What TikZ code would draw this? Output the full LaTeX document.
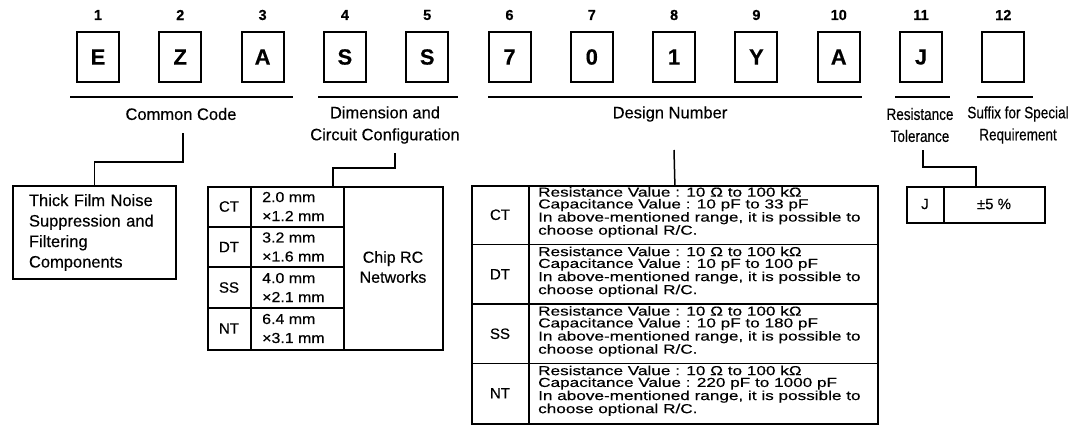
\documentclass[tikz,border=0pt]{standalone}
\usepackage{fontspec}
\setmainfont[FakeBold=0.35]{Liberation Sans}[BoldFont={Liberation Sans Bold}]
\newfontfamily\widef[FakeStretch=1.32,FakeBold=0.35]{Liberation Sans}
\newfontfamily\medf[FakeStretch=1.1,FakeBold=0.35]{Liberation Sans}
\newfontfamily\narf[FakeStretch=0.82,FakeBold=0.35]{Liberation Sans}
\usetikzlibrary{calc}
\begin{document}
\begin{tikzpicture}[x=1pt,y=-1pt,
  digit/.style={font=\fontsize{14.5}{14.5}\selectfont\bfseries, inner sep=0},
  cell/.style={draw, line width=2pt, minimum width=42pt, minimum height=50pt, inner sep=0, font=\fontsize{22}{22}\selectfont\bfseries},
  lbl/.style={font=\fontsize{16.5}{22}\selectfont, inner sep=0, align=center},
  nlbl/.style={font=\narf\fontsize{16.5}{22}\selectfont, inner sep=0, align=center},
  ln/.style={line width=1.5pt},
  frame/.style={draw, line width=1.8pt, inner sep=0, anchor=north west},
  codetxt/.style={font=\fontsize{15}{15}\selectfont, inner sep=0},
  sztxt/.style={font=\medf\fontsize{14.5}{19}\selectfont, inner sep=0, align=left, anchor=west},
  tabtxt/.style={font=\widef\fontsize{13}{11.8}\selectfont, align=left, anchor=north west, inner sep=0}
]
\useasboundingbox (0,0) rectangle (1073,434);

% top digits and boxes
\foreach \i/\c in {1/E,2/Z,3/A,4/S,5/S,6/7,7/0,8/1,9/Y,10/A,11/J,12/{}} {
  \node[digit] (n\i) at ({98+82.3*(\i-1)},15) {\i};
  \node[cell] (b\i) at ({98+82.3*(\i-1)},57) {\c};
}

% underlines
\draw[ln] (70,97) coordinate (u1a) -- (293,97) coordinate (u1b);
\draw[ln] (318,97) coordinate (u2a) -- (458,97) coordinate (u2b);
\draw[ln] (488,97) coordinate (u3a) -- (862,97) coordinate (u3b);
\draw[ln] (895,97) coordinate (u4a) -- (950,97) coordinate (u4b);
\draw[ln] (977,97) coordinate (u5a) -- (1033,97) coordinate (u5b);

% group labels
\node[lbl] (lcc) at (181,114) {Common Code};
\node[lbl] (ldim) at (385,125) {Dimension and\\Circuit Configuration};
\node[lbl] (ldn) at (670,114) {Design Number};
\node[nlbl] (lrt) at (920,125) {Resistance\\Tolerance};
\node[nlbl] (lsf) at (1018,125) {Suffix for Special\\Requirement};

% thick film box
\node[frame, line width=2pt, minimum width=163pt, minimum height=93pt, text width=131pt,
      align=left, inner xsep=16pt, font=\fontsize{16.5}{20.5}\selectfont] (tf) at (12,185)
  {Thick Film Noise\\Suppression and\\Filtering\\Components};

% dimension table
\node[frame, minimum width=235pt, minimum height=163pt] (dimtab) at (207,186) {};
\draw[ln] (251,186) -- (251,349);
\draw[ln] (344,186) -- (344,349);
\draw[ln] (207,227) -- (344,227);
\draw[ln] (207,267) -- (344,267);
\draw[ln] (207,308) -- (344,308);
\node[codetxt] (dct) at (229,206.5) {CT};
\node[codetxt] (ddt) at (229,247) {DT};
\node[codetxt] (dss) at (229,287.5) {SS};
\node[codetxt] (dnt) at (229,328.5) {NT};
\node[sztxt] (sct) at (262,206.5) {2.0 mm\\×1.2 mm};
\node[sztxt] (sdt) at (262,247) {3.2 mm\\×1.6 mm};
\node[sztxt] (sss) at (262,287.5) {4.0 mm\\×2.1 mm};
\node[sztxt] (snt) at (262,328.5) {6.4 mm\\×3.1 mm};
\node[lbl, font=\fontsize{16}{20}\selectfont] (chip) at (393,267) {Chip RC\\Networks};

% design table
\node[frame, minimum width=406pt, minimum height=238pt] (destab) at (471,185) {};
\draw[ln] (529,185) -- (529,423);
\draw[ln] (471,244.5) -- (877,244.5);
\draw[ln] (471,304) -- (877,304);
\draw[ln] (471,363.5) -- (877,363.5);
\node[codetxt] (xct) at (500,214.75) {CT};
\node[codetxt] (xdt) at (500,274.25) {DT};
\node[codetxt] (xss) at (500,333.75) {SS};
\node[codetxt] (xnt) at (500,393.25) {NT};
\node[tabtxt] (tct) at (538,187) {Resistance Value : 10 Ω to 100 kΩ\\Capacitance Value : 10 pF to 33 pF\\In above-mentioned range, it is possible to\\choose optional R/C.};
\node[tabtxt] (tdt) at (538,246.5) {Resistance Value : 10 Ω to 100 kΩ\\Capacitance Value : 10 pF to 100 pF\\In above-mentioned range, it is possible to\\choose optional R/C.};
\node[tabtxt] (tss) at (538,306) {Resistance Value : 10 Ω to 100 kΩ\\Capacitance Value : 10 pF to 180 pF\\In above-mentioned range, it is possible to\\choose optional R/C.};
\node[tabtxt] (tnt) at (538,365.5) {Resistance Value : 10 Ω to 100 kΩ\\Capacitance Value : 220 pF to 1000 pF\\In above-mentioned range, it is possible to\\choose optional R/C.};

% tolerance table
\node[frame, minimum width=138pt, minimum height=36pt] (toltab) at (906,186) {};
\draw[ln] (944,186) -- (944,222);
\node[codetxt] (tj) at (925,204) {J};
\node[codetxt] (t5) at (994,204) {±5 \%};

% connectors
\coordinate (ccA) at (183,133);
\draw[ln] (ccA) -- ++(0,29) -| (tf.north);
\coordinate (dmA) at (395,153);
\coordinate (dmB) at (333,186);
\draw[ln] (dmA) -- ++(0,15) -| (dmB);
\coordinate (dnA) at (674,150);
\draw[ln] (dnA) -- (destab.north);
\coordinate (rtA) at (923,150);
\draw[ln] (rtA) -- ++(0,17) -| (toltab.north);
\end{tikzpicture}
\end{document}
